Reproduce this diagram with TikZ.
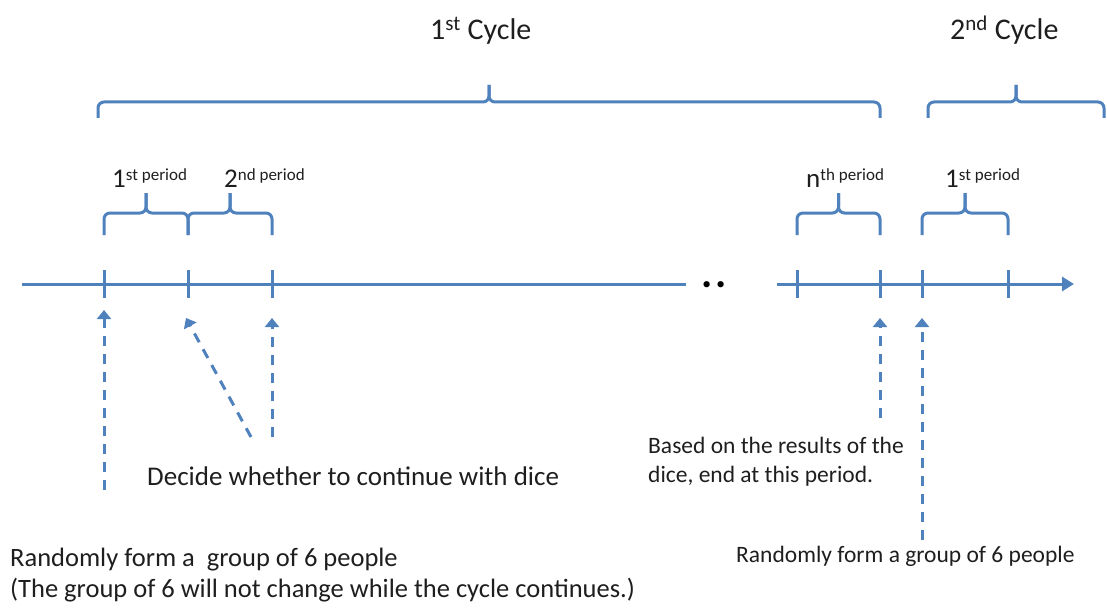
\documentclass[tikz,border=0pt]{standalone}
\usepackage{fontspec}
\setmainfont{Carlito}
\usetikzlibrary{arrows.meta}

\definecolor{tlblue}{RGB}{79,129,189}
\definecolor{txt}{RGB}{30,30,30}
\newcommand{\fs}[1]{\fontsize{#1}{#1}\selectfont}
% brace over a span: left x, right x, line y, end y, tip y
\newcommand{\spanbrace}[5]{%
  \draw[brc] (#1,#4) -- (#1,#3) -- ({(#1+#2)/2},#3) -- ({(#1+#2)/2},#5);
  \draw[brc] (#2,#4) -- (#2,#3) -- ({(#1+#2)/2},#3) -- ({(#1+#2)/2},#5);}

\begin{document}
\begin{tikzpicture}[x=1pt, y=-1pt,
  axis/.style={draw=tlblue, line width=3pt},
  brc/.style={draw=tlblue, line width=3pt, rounded corners=6pt},
  upar/.style={draw=tlblue, line width=3pt, dash pattern=on 10pt off 8pt,
    -{Triangle[width=14pt, length=9pt]}},
  lab/.style={text=txt, inner sep=0pt, anchor=base west},
  big/.style={lab, font=\fs{30}},
  per/.style={lab, font=\fs{27}}
]
\useasboundingbox (0,0) rectangle (1107,607);

% time line
\draw[axis] (22,284) -- (686,284);
\node[lab, text=black, font=\fs{42}\bfseries] (dots) at (701,287) {.\kern3pt.};
\draw[axis, -{Triangle[width=14pt, length=12pt]}] (777,284) -- (1074,284);
\foreach \n/\x in {a/104,b/188,c/272,d/797,e/880,f/922,g/1008} {
  \coordinate (t\n) at (\x,310);
  \draw[axis] (\x,270) -- (\x,298);
}

% cycles
\spanbrace{98}{880}{102}{118}{85}
\spanbrace{928}{1104}{102}{118}{85}
\node[big] (cyc1) at (430,40) {1\textsuperscript{st} Cycle};
\node[big] (cyc2) at (950,40) {2\textsuperscript{nd} Cycle};

% periods
\spanbrace{104}{188}{213}{235}{193}
\spanbrace{188}{272}{213}{235}{193}
\spanbrace{797}{880}{213}{235}{193}
\spanbrace{922}{1008}{213}{235}{193}
\node[per] (p1) at (112,187) {1\raisebox{7pt}{\fs{17}st period}};
\node[per] (p2) at (224,187) {2\raisebox{7pt}{\fs{17}nd period}};
\node[per] (pn) at (806,187) {n\raisebox{7pt}{\fs{17}th period}};
\node[per] (q1) at (945,187) {1\raisebox{7pt}{\fs{17}st period}};

% notes
\node[lab, font=\fs{27}] (dice) at (147,485) {Decide whether to continue with dice};
\node[lab, font=\fs{26.5}] (rand1) at (10,566) {Randomly form a \ group of 6 people};
\node[lab, font=\fs{26.5}] (rand1b) at (10,597) {(The group of 6 will not change while the cycle continues.)};
\node[lab, font=\fs{23.5}] (endp) at (648,453) {Based on the results of the};
\node[lab, font=\fs{23.5}] (endpb) at (648,482) {dice, end at this period.};
\node[lab, font=\fs{23.5}] (rand2) at (736,562) {Randomly form a group of 6 people};

\coordinate (sa) at (104,490);
\coordinate (sb) at (251,437);
\coordinate (sc) at (272,437);
\coordinate (se) at (880,418);
\coordinate (sf) at (922,540);
\coordinate (tbb) at (186,318);
\coordinate (tcc) at (272,318);
\coordinate (tee) at (880,318);
\coordinate (tff) at (922,318);

\draw[upar] (sa) -- (ta);
\draw[upar] (sb) -- (tbb);
\draw[upar] (sc) -- (tcc);
\draw[upar] (se) -- (tee);
\draw[upar] (sf) -- (tff);
\end{tikzpicture}
\end{document}
